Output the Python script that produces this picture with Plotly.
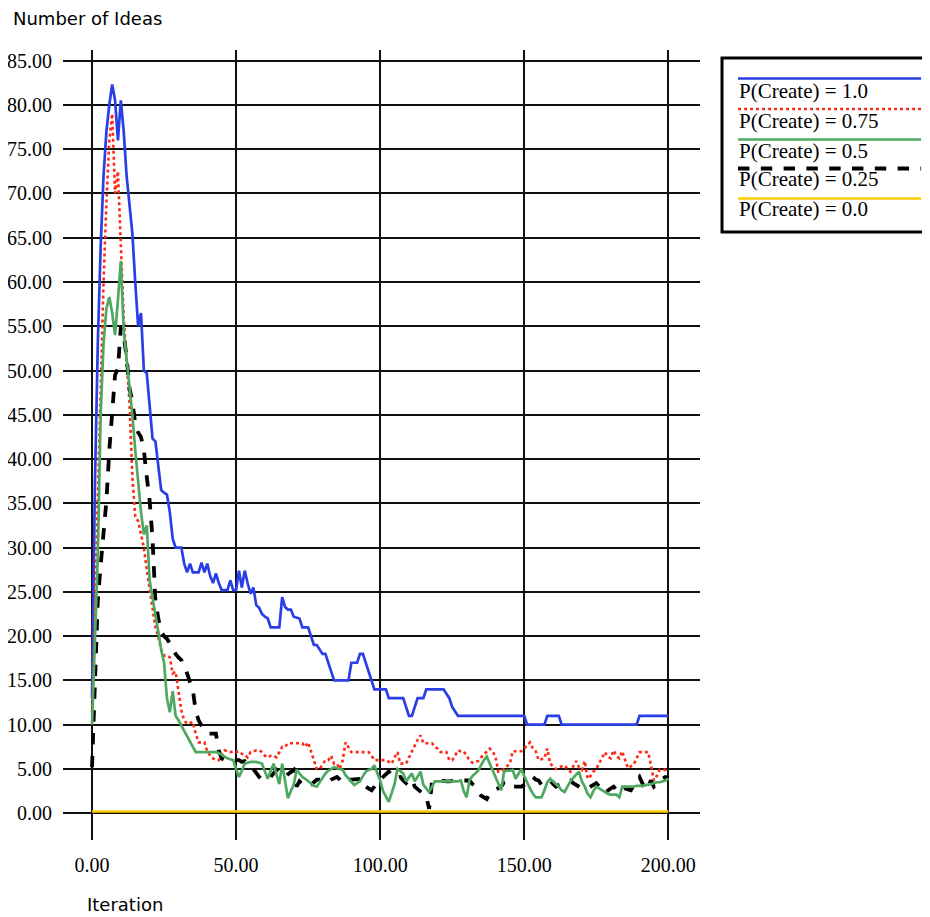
import plotly.graph_objects as go

# ---------------- data ----------------
iterations = list(range(0, 201))

blue_x = [0, 1, 2, 3, 4, 5, 6, 7, 8, 9, 10, 11, 12, 13, 14, 15, 16, 17, 18, 19,
          20, 21, 22, 23, 24, 25, 26, 27, 28, 29, 30, 31, 32, 33, 34, 35, 36, 37, 38, 39,
          40, 41, 42, 43, 44, 45, 46, 47, 48, 49, 50, 51, 52, 53, 54, 55, 56, 57, 58, 59,
          60, 61, 62, 65, 66, 67, 68, 69, 70, 72, 73, 75, 76, 77, 78, 79, 80, 81, 82, 83,
          84, 89, 90, 92, 93, 94, 95, 96, 97, 98, 102, 103, 108, 109, 110, 111, 112, 113, 115, 116,
          122, 123, 124, 125, 126, 127, 150, 151, 157, 158, 162, 163, 189, 190, 200]
blue_y = [13, 37, 53, 64, 72, 77, 80, 82.3, 80.5, 76, 80.5, 77, 72, 69, 65.5, 60, 55, 56.5, 50, 49.7,
          46, 42.3, 42, 39, 36.5, 36.2, 36, 34, 31, 30, 30, 30, 28.2, 27.2, 28.2, 27.2, 27.2, 27.2, 28.3, 27.2,
          28.2, 26.8, 26, 27.1, 26, 25.2, 25.2, 25.2, 26.3, 25.2, 25.2, 27.4, 25.5, 27.4, 26, 24.8, 25.5, 23.5, 23.2, 22.5,
          22.2, 22, 21, 21, 24.4, 23.3, 23, 23, 22.2, 22, 21, 21, 20, 19, 19, 18.5, 18, 18, 17, 16,
          15, 15, 17, 17, 18, 18, 17, 16, 15, 14, 14, 13, 13, 12, 11, 11, 12, 13, 13, 14,
          14, 13.5, 13, 12, 11.5, 11, 11, 10, 10, 11, 11, 10, 10, 11, 11]

red_y = [11.4, 23.7, 35, 48, 60, 69, 76, 79, 70, 72.5, 64, 56, 51, 46.5, 38, 33.5, 33, 31.6, 30, 27.5,
         25.5, 23.5, 21, 19.9, 18.5, 17.8, 17.8, 17.6, 15.8, 16, 13.9, 11.6, 10.5, 10.1, 10.2, 10.3, 9, 8, 8, 8,
         7, 6.5, 6.2, 6, 6, 6.5, 7.1, 7, 6.9, 7, 6.9, 7, 6.7, 6.6, 6.3, 6.9, 7, 7.1, 7.1, 6.9,
         6.5, 6.3, 6.5, 6.5, 6.3, 6.9, 7.5, 7.5, 7.9, 7.9, 7.9, 7.9, 7.9, 7.9, 7.5, 8, 7, 6, 5, 5,
         5.5, 6, 6, 6.5, 5.6, 5.6, 5, 6, 8, 7.5, 6.9, 6.9, 6.9, 6.9, 6.9, 6.9, 6.9, 6.5, 6, 6,
         6, 6, 6, 5.8, 5.6, 6.3, 6.9, 5.6, 5.6, 5.6, 6.3, 7, 7.5, 8.3, 8.8, 7.9, 7.9, 7.9, 7.9, 7.5,
         7.3, 6.9, 6.9, 6.9, 6, 6, 6.5, 7.1, 7, 7, 6.5, 6, 5.7, 5.8, 5.9, 6.3, 6.6, 7, 7.3, 7,
         6.4, 4.7, 4.8, 5, 5.3, 5.6, 7, 7, 7, 7, 7.3, 7.6, 8, 7.3, 7, 6, 6.1, 6.2, 7.3, 5.6,
         5.3, 5, 5.2, 5.3, 5.4, 5, 4.7, 5.3, 5.9, 5.2, 4.9, 5.9, 3.9, 4.2, 4.7, 5, 5.6, 6.2, 6.9, 6.4,
         6.2, 7.1, 6.5, 6.2, 7, 6, 5.1, 5.3, 5.5, 6.2, 6.9, 6.9, 6.9, 6.9, 5.4, 3.7, 4.2, 4.9, 4.9, 4.9,
         5]

green_y = [10, 20, 29, 45, 53, 57, 58.3, 56.5, 54, 58, 62.4, 54.5, 51.5, 48, 45, 41, 37.5, 34, 31.5, 32.5,
           26.3, 24.5, 22.5, 20.5, 18.5, 17, 13, 11.4, 13.8, 11, 10.5, 9.9, 9.2, 8.6, 8, 7.4, 6.9, 6.9, 6.9, 6.9,
           6.9, 6.9, 6.9, 6.9, 6.8, 6.6, 6.4, 6.2, 6.1, 6, 5, 4.1, 4.8, 5.6, 5.7, 5.8, 5.8, 5.8, 5.7, 5.6,
           4.7, 3.9, 4.8, 5.6, 4.4, 3.3, 5.6, 3.5, 1.7, 2.5, 3.2, 4.9, 4.5, 4.1, 3.9, 3.6, 3.3, 3.1, 3, 3.5,
           4, 4.5, 4.8, 5, 5.2, 5.1, 5, 4.9, 4.3, 3.9, 3.5, 3.2, 3.4, 3.6, 4.2, 4.7, 4.9, 5, 5.4, 4.5,
           3.7, 2.5, 1.8, 1.3, 2.3, 3.3, 5, 4.7, 4.5, 3.6, 4, 4.5, 3.6, 4.2, 4.7, 3.2, 2.8, 2.4, 3, 3.6,
           3.6, 3.6, 3.6, 3.6, 3.6, 3.6, 3.6, 3.6, 3.7, 2.5, 1.8, 3.7, 4.2, 4.5, 4.8, 5.4, 6, 6.4, 5.6, 4.9,
           4, 3.3, 2.6, 4.7, 4.8, 4.8, 4.9, 3.9, 4.5, 5, 4.2, 3.4, 2.8, 2.2, 1.8, 1.8, 1.8, 2.6, 3.5, 3.9,
           3.6, 3.4, 3, 2.6, 2.4, 3, 3.6, 4, 4.3, 4.7, 3.6, 3, 2.2, 1.8, 2.5, 3, 2.8, 2.6, 2.4, 2.2,
           2.1, 2.1, 2.1, 1.8, 3, 3, 3, 3, 3, 3.1, 3.1, 3.1, 3.2, 3.2, 3.3, 3.4, 3.5, 3.5, 3.6, 3.7,
           3.9]

black_y = [5.2, 15, 24, 28, 32, 35.3, 41, 46, 49.5, 50.2, 54.9, 54, 51.5, 48, 46.5, 44, 43, 42.5, 41, 38,
           35.3, 31, 24, 22, 20.5, 20, 19.7, 19.2, 18.5, 18, 17.6, 17.3, 16.5, 15.8, 14.8, 13.9, 11.5, 10.5, 9.9, 9.5,
           9, 9, 9, 9, 7.1, 6.2, 6, 6, 6, 6, 6, 6, 5.8, 5.9, 5.6, 5.1, 5, 4.5, 4.1, 3.8,
           3.9, 4, 4.1, 4.5, 4.9, 4.6, 4.3, 4.1, 4.4, 4.7, 4.9, 3, 3.6, 3.3, 3, 3.1, 3.2, 3.5, 3.8, 3.8,
           3.9, 3.7, 3.6, 3.8, 4, 4.1, 3.8, 3.4, 3.6, 3.8, 3.8, 3.8, 3.8, 3.9, 3.9, 3, 2.8, 2.6, 3, 3.5,
           3.8, 4.1, 4.4, 4.7, 4.3, 3.9, 4, 4.1, 3.7, 3.4, 3.7, 3.9, 3, 2.7, 2.4, 2.1, 1.9, 0.5, 3.6, 3.7,
           3.8, 3.7, 3.6, 3.6, 3.6, 3.7, 3.7, 3.7, 3.7, 3.7, 3.7, 3.7, 3.3, 3, 2.5, 2, 1.8, 1.6, 2.3, 2.5,
           2.6, 2.8, 3, 3.5, 3.6, 3.3, 3, 3, 3, 3, 3.2, 3.4, 3.8, 4.1, 3.8, 3.7, 3.2, 3.4, 3.6, 3.7,
           3.3, 3, 3.2, 3.4, 3.5, 3.6, 3.7, 3.4, 3.2, 3, 2.8, 2.8, 2.8, 3, 3.2, 3.4, 3, 2.8, 2.3, 2.6,
           2.8, 3, 2.6, 2.3, 2.6, 2.8, 2.7, 2.6, 3.2, 3.7, 4.1, 3.4, 2.6, 3.1, 3.7, 3, 3.3, 3.7, 3.9, 4.1,
           4]

yellow_x = [0, 200]
yellow_y = [0.2, 0.2]

series_names = ["P(Create) = 1.0", "P(Create) = 0.75", "P(Create) = 0.5",
                "P(Create) = 0.25", "P(Create) = 0.0"]
x_ticks = [0, 50, 100, 150, 200]
x_tick_labels = ["0.00", "50.00", "100.00", "150.00", "200.00"]
y_ticks = list(range(0, 90, 5))
y_tick_labels = [f"{v:.2f}" for v in y_ticks]

# ---------------- styles ----------------
BLUE = "#2a3ee6"
RED = "#ff2a14"
GREEN = "#4fa860"
BLACK = "#000000"
YELLOW = "#ffcc00"

styles = [
    dict(color=BLUE, width=2.7, dash="solid"),
    dict(color=RED, width=2.6, dash="dot"),
    dict(color=GREEN, width=2.7, dash="solid"),
    dict(color=BLACK, width=3.8, dash="dash"),
    dict(color=YELLOW, width=2.7, dash="solid"),
]

fig = go.Figure()
data_sets = [(blue_x, blue_y), (iterations, red_y), (iterations, green_y),
             (iterations, black_y), (yellow_x, yellow_y)]
# draw order: yellow, blue, red, black, green on top
order = [4, 0, 1, 3, 2]
for i in order:
    xs, ys = data_sets[i]
    fig.add_trace(go.Scatter(x=xs, y=ys, mode="lines", name=series_names[i],
                             line=styles[i], showlegend=False, hoverinfo="skip"))

# ---------------- layout ----------------
# The page body has an 8px margin, so the figure starts at (8, 8) on screen.
OFF = 8
W, H = 922, 909
PL, PR, PT, PB = 63.3, 700, 50, 840          # plot area on screen
L, T = PL - OFF, PT - OFF
R, B = (OFF + W) - PR, (OFF + H) - PB
pw, ph = PR - PL, PB - PT

def px_x(p):
    return (p - PL) / pw

def px_y(p):
    return (PB - p) / ph

serif = "Liberation Serif, Times New Roman, serif"
sans = "DejaVu Sans, Verdana, sans-serif"

fig.update_layout(
    width=W, height=H,
    margin=dict(l=L, r=R, t=T, b=B, pad=0, autoexpand=False),
    paper_bgcolor="white", plot_bgcolor="white",
    xaxis=dict(range=[-10.07, 211], tickvals=x_ticks, ticktext=x_tick_labels,
               showgrid=True, gridcolor="#111111", gridwidth=1.7,
               zeroline=False, showline=False, ticks="", automargin=False,
               ticklabelstandoff=11,
               tickfont=dict(family=serif, size=20, color="black")),
    yaxis=dict(range=[-3.02, 86.2], tickvals=y_ticks, ticktext=y_tick_labels,
               showgrid=True, gridcolor="#111111", gridwidth=1.7,
               zeroline=False, showline=False, ticks="", automargin=False,
               ticklabelstandoff=10,
               tickfont=dict(family=serif, size=20, color="black")),
)

annotations = [
    dict(text="Number of Ideas", x=px_x(12), y=px_y(18), xref="paper", yref="paper",
         xanchor="left", yanchor="middle", showarrow=False, borderpad=0,
         font=dict(family=sans, size=18, color="black")),
    dict(text="Iteration", x=px_x(86), y=px_y(904), xref="paper", yref="paper",
         xanchor="left", yanchor="middle", showarrow=False, borderpad=0,
         font=dict(family=sans, size=18, color="black")),
]

shapes = [
    dict(type="rect", xref="paper", yref="paper",
         x0=px_x(722), x1=px_x(925), y0=px_y(232), y1=px_y(58),
         line=dict(color="black", width=3), fillcolor="white", layer="above"),
]

line_rows = [78.5, 109, 139.5, 168.5, 198.5]
text_rows = [91, 121, 151, 179, 209.5]
for i in range(5):
    shapes.append(dict(type="line", xref="paper", yref="paper",
                       x0=px_x(738), x1=px_x(921), y0=px_y(line_rows[i]), y1=px_y(line_rows[i]),
                       line=dict(color=styles[i]["color"], width=styles[i]["width"],
                                 dash=styles[i]["dash"]), layer="above"))
    annotations.append(dict(text=series_names[i], x=px_x(737), y=px_y(text_rows[i]),
                            xref="paper", yref="paper", xanchor="left", yanchor="middle",
                            showarrow=False,
                            font=dict(family=serif, size=21, color="black")))

fig.update_layout(annotations=annotations, shapes=shapes)

fig.write_html("out.html")
